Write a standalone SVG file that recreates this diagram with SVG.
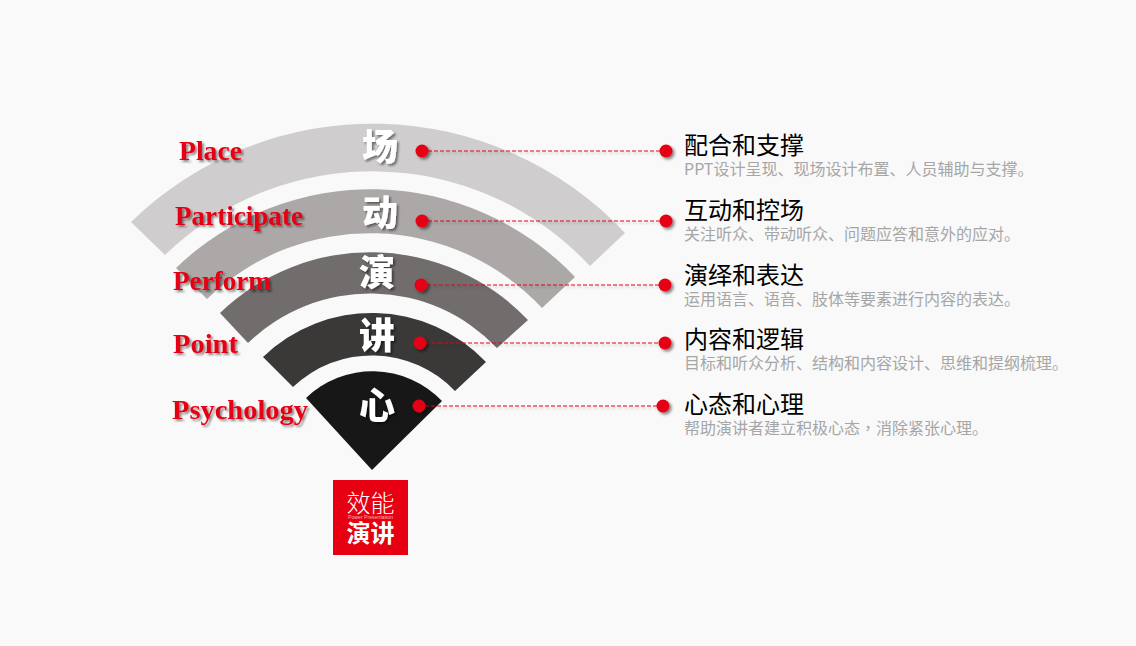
<svg xmlns="http://www.w3.org/2000/svg" width="1136" height="646" viewBox="0 0 1136 646">
<defs>
<filter id="ts" x="-20%" y="-20%" width="140%" height="150%"><feDropShadow dx="2" dy="2" stdDeviation="1.2" flood-color="#000" flood-opacity="0.45"/></filter>
<filter id="ds" x="-60%" y="-60%" width="220%" height="220%"><feDropShadow dx="2" dy="2" stdDeviation="1.5" flood-color="#000" flood-opacity="0.5"/></filter>
<filter id="ls" filterUnits="userSpaceOnUse" x="400" y="130" width="300" height="300"><feDropShadow dx="1" dy="2" stdDeviation="1" flood-color="#000" flood-opacity="0.22"/></filter>
</defs>
<style>
.en{font-family:"Liberation Serif","Times New Roman",serif;font-weight:700;font-size:27px;fill:#e60012;filter:url(#ts)}
.big{font-family:"Noto Sans CJK SC",sans-serif;font-weight:900;font-size:36px;fill:#fff;text-anchor:middle;filter:url(#ts)}
.t{font-family:"Noto Sans CJK SC",sans-serif;font-size:24px;fill:#000}
.s{font-family:"Noto Sans CJK SC",sans-serif;font-size:16px;fill:#a6a6a6}
.dot{fill:#e60012;filter:url(#ds)}
.ln{stroke:#e60012;stroke-width:1;stroke-dasharray:4 2;fill:none;filter:url(#ls)}
</style>
<rect width="1136" height="646" fill="#f9f9f9"/>
<g id="node-place">
<path d="M131 222A346 346 0 0 1 625 233L590 266A298 298 0 0 0 165 255Z" fill="#cfcdcd"/>
<text class="en" x="179" y="160" textLength="63" lengthAdjust="spacingAndGlyphs">Place</text>
<text class="big" x="380" y="160">场</text>
</g>
<g id="node-participate">
<path d="M176 268A281 281 0 0 1 575 277L542 308A235 235 0 0 0 207 299Z" fill="#aca8a7"/>
<text class="en" x="175" y="225" textLength="128" lengthAdjust="spacingAndGlyphs">Participate</text>
<text class="big" x="380" y="226">动</text>
</g>
<g id="node-perform">
<path d="M220 313A217 217 0 0 1 528 320L497 348A175 175 0 0 0 248 343Z" fill="#726d6d"/>
<text class="en" x="173" y="290" textLength="98" lengthAdjust="spacingAndGlyphs">Perform</text>
<text class="big" x="377" y="286">演</text>
</g>
<g id="node-point">
<path d="M263 357A157 157 0 0 1 486 362L455 391A114.500 114.500 0 0 0 293 387Z" fill="#3b3838"/>
<text class="en" x="173" y="353" textLength="65" lengthAdjust="spacingAndGlyphs">Point</text>
<text class="big" x="377" y="349">讲</text>
</g>
<g id="node-psychology">
<path d="M306 398A96 96 0 0 1 442 401L372 470Z" fill="#181717"/>
<text class="en" x="172" y="419" textLength="136" lengthAdjust="spacingAndGlyphs">Psychology</text>
<text class="big" x="377" y="419">心</text>
</g>
<g id="connectors">
<path class="ln" d="M422 151H666"/>
<path class="ln" d="M422 221H666"/>
<path class="ln" d="M421 285H665"/>
<path class="ln" d="M420 343H665"/>
<path class="ln" d="M419 406H663"/>
</g>
<g id="dots">
<circle class="dot" cx="422" cy="151" r="6.500"/><circle class="dot" cx="666" cy="151" r="6.500"/>
<circle class="dot" cx="422" cy="221" r="6.500"/><circle class="dot" cx="666" cy="221" r="6.500"/>
<circle class="dot" cx="421" cy="285" r="6.500"/><circle class="dot" cx="665" cy="285" r="6.500"/>
<circle class="dot" cx="420" cy="343" r="6.500"/><circle class="dot" cx="665" cy="343" r="6.500"/>
<circle class="dot" cx="419" cy="406" r="6.500"/><circle class="dot" cx="663" cy="406" r="6.500"/>
</g>
<g id="desc-1"><text class="t" x="684" y="154">配合和支撑</text><text class="s" x="684" y="175">PPT设计呈现、现场设计布置、人员辅助与支撑。</text></g>
<g id="desc-2"><text class="t" x="684" y="219">互动和控场</text><text class="s" x="684" y="240">关注听众、带动听众、问题应答和意外的应对。</text></g>
<g id="desc-3"><text class="t" x="684" y="284">演绎和表达</text><text class="s" x="684" y="305">运用语言、语音、肢体等要素进行内容的表达。</text></g>
<g id="desc-4"><text class="t" x="684" y="348">内容和逻辑</text><text class="s" x="684" y="369">目标和听众分析、结构和内容设计、思维和提纲梳理。</text></g>
<g id="desc-5"><text class="t" x="684" y="413">心态和心理</text><text class="s" x="684" y="434">帮助演讲者建立积极心态<tspan font-family="Noto Sans CJK TC, sans-serif">，</tspan>消除紧张心理。</text></g>
<g id="logo">
<rect x="333" y="480" width="75" height="75" fill="#e60012"/>
<text x="370.500" y="512" text-anchor="middle" font-family="Noto Sans CJK SC, sans-serif" font-weight="300" font-size="24" fill="#fff">效能</text>
<text x="348" y="519" font-family="Liberation Sans, sans-serif" font-size="5" textLength="45" lengthAdjust="spacingAndGlyphs" fill="#f6b6ba">Power Presentation</text>
<text x="370.500" y="542" text-anchor="middle" font-family="Noto Sans CJK SC, sans-serif" font-weight="700" font-size="24" fill="#fff">演讲</text>
</g>
</svg>
